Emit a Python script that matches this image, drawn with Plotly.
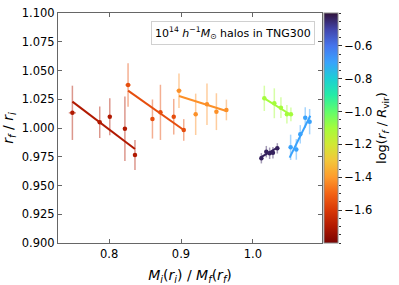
import plotly.graph_objects as go
from plotly.colors import sample_colorscale, sequential

# ---------------- data ----------------
group_logr = [-1.70, -1.55, -1.42, -1.10, -0.43, -0.70]

g1_x = [0.749, 0.787, 0.801, 0.822, 0.836]
g1_y = [1.0132, 1.0050, 1.0098, 0.9994, 0.9765]
g1_yerr = [0.0236, 0.0137, 0.0160, 0.0280, 0.0130]
g1_xerr = [0.005, 0.0, 0.0, 0.0, 0.0]

g2_x = [0.8264, 0.8603, 0.8714, 0.8899, 0.9038]
g2_y = [1.0374, 1.0078, 1.0136, 1.0098, 0.9983]
g2_yerr = [0.0190, 0.0170, 0.0240, 0.0155, 0.0094]
g2_xerr = [0.004, 0.0, 0.0, 0.0, 0.0]

g3_x = [0.8972, 0.9204, 0.9361, 0.9492, 0.9631]
g3_y = [1.0325, 1.0119, 1.0206, 1.0142, 1.0157]
g3_yerr = [0.0150, 0.0180, 0.0180, 0.0160, 0.0090]
g3_xerr = [0.004, 0.0, 0.0, 0.0, 0.0]

g4_x = [1.0158, 1.0297, 1.0389, 1.0472, 1.0528]
g4_y = [1.0258, 1.0215, 1.0177, 1.0119, 1.0119]
g4_yerr = [0.0110, 0.0130, 0.0090, 0.0080, 0.0060]
g4_xerr = [0.002, 0.0, 0.0, 0.0, 0.0]

g5_x = [1.0117, 1.0186, 1.0232, 1.0278, 1.0339]
g5_y = [0.9737, 0.9794, 0.9780, 0.9785, 0.9823]
g5_yerr = [0.0045, 0.0050, 0.0050, 0.0050, 0.0045]
g5_xerr = [0.001, 0.0, 0.0, 0.0, 0.0]

g6_x = [1.0524, 1.0603, 1.0658, 1.0727, 1.0788]
g6_y = [0.9832, 0.9814, 0.9945, 1.0090, 1.0055]
g6_yerr = [0.0110, 0.0090, 0.0080, 0.0090, 0.0110]
g6_xerr = [0.001, 0.0, 0.0, 0.0, 0.0]

# fitted line end points per group
fit_x0 = [0.749, 0.8264, 0.8972, 1.0158, 1.0107, 1.0510]
fit_x1 = [0.836, 0.9038, 0.9631, 1.0530, 1.0347, 1.0797]
fit_y0 = [1.0229, 1.0325, 1.0278, 1.0258, 0.9745, 0.9742]
fit_y1 = [0.9817, 0.9983, 1.0148, 1.0113, 0.9832, 1.0107]

x_ticks = [0.8, 0.9, 1.0]
y_ticks = [0.900, 0.925, 0.950, 0.975, 1.000, 1.025, 1.050, 1.075, 1.100]
cb_ticks = [-1.6, -1.4, -1.2, -1.0, -0.8, -0.6]

CMIN, CMAX = -1.8, -0.4

groups = [
    (g1_x, g1_y, g1_xerr, g1_yerr),
    (g2_x, g2_y, g2_xerr, g2_yerr),
    (g3_x, g3_y, g3_xerr, g3_yerr),
    (g4_x, g4_y, g4_xerr, g4_yerr),
    (g5_x, g5_y, g5_xerr, g5_yerr),
    (g6_x, g6_y, g6_xerr, g6_yerr),
]


def to_rgba(c, a):
    if c.startswith("rgb"):
        vals = c[c.index("(") + 1:c.index(")")].split(",")
        r, g, b = [float(v) for v in vals[:3]]
    else:
        c = c.lstrip("#")
        r, g, b = int(c[0:2], 16), int(c[2:4], 16), int(c[4:6], 16)
    return f"rgba({int(r)},{int(g)},{int(b)},{a})"


fig = go.Figure()

for i, (gx, gy, gxe, gye) in enumerate(groups):
    t = (group_logr[i] - CMIN) / (CMAX - CMIN)
    col = sample_colorscale(sequential.Turbo_r, [t])[0]
    ecol = to_rgba(col, 0.45)
    fig.add_trace(go.Scatter(
        x=gx, y=gy, mode="markers",
        marker=dict(size=4.5, color=col),
        error_y=dict(type="data", array=gye, visible=True, color=ecol,
                     thickness=1.5, width=0),
        error_x=dict(type="data", array=gxe, visible=True, color=ecol,
                     thickness=1.5, width=0),
        showlegend=False, hoverinfo="skip",
    ))
    fig.add_trace(go.Scatter(
        x=[fit_x0[i], fit_x1[i]], y=[fit_y0[i], fit_y1[i]], mode="lines",
        line=dict(color=col, width=2), showlegend=False, hoverinfo="skip",
    ))

# layout geometry
W, H = 399, 285
ML, MR, MT, MB = 58, 18, 13, 42
PW = W - ML - MR
plot_right_px = 322
dom_right = (plot_right_px - ML) / PW
cb_left = (324 - ML) / PW
cb_thick = 14
cb_right = (324 + cb_thick - ML) / PW

# colorbar trace
fig.add_trace(go.Scatter(
    x=[None], y=[None], mode="markers",
    marker=dict(color=[-1.0], cmin=CMIN, cmax=CMAX, colorscale="Turbo_r",
                showscale=True,
                colorbar=dict(
                    x=cb_left, xanchor="left", xpad=0, ypad=0,
                    y=0.5, yanchor="middle", len=1, lenmode="fraction",
                    thickness=cb_thick, outlinecolor="#888", outlinewidth=1,
                    tickvals=cb_ticks, ticktext=[f"\u2212{abs(v):.1f}" for v in cb_ticks],
                    ticks="outside", ticklen=4, tickwidth=1, tickcolor="#333",
                    tickfont=dict(family="DejaVu Sans", size=11.5, color="black"),
                    title=dict(text="log(<i>r</i><sub><i>f</i></sub> / <i>R</i><sub>vir</sub>)",
                               side="right",
                               font=dict(family="DejaVu Sans", size=13, color="black")),
                )),
    showlegend=False, hoverinfo="skip",
))

# helper trace for colorbar minor ticks
fig.add_trace(go.Scatter(x=[None], y=[None], yaxis="y2", showlegend=False,
                         hoverinfo="skip"))

fig.add_annotation(
    xref="x domain", yref="y domain", x=(315 - ML) / (plot_right_px - ML),
    y=1 - (21 - MT) / 230, xanchor="right", yanchor="top",
    text="10<sup>14</sup> <i>h</i><sup>\u22121</sup><i>M</i><sub>\u2299</sub> halos in TNG300",
    showarrow=False, bgcolor="white", bordercolor="#d0d0d0", borderwidth=1,
    borderpad=3, font=dict(family="DejaVu Sans", size=11, color="black"),
)

axis_common = dict(
    showline=True, linecolor="#666", linewidth=1, mirror="ticks",
    ticks="inside", ticklen=4, tickwidth=1, tickcolor="#666",
    showgrid=False, zeroline=False, automargin=False,
    tickfont=dict(family="DejaVu Sans", size=11.5, color="black"),
)

fig.update_layout(
    width=W, height=H,
    margin=dict(l=ML, r=MR, t=MT, b=MB, pad=0, autoexpand=False),
    plot_bgcolor="white", paper_bgcolor="white",
    font=dict(family="DejaVu Sans", color="black"),
    xaxis=dict(
        domain=[0, dom_right], range=[0.729, 1.096],
        tickvals=x_ticks, ticktext=[f"{v:.1f}" for v in x_ticks],
        title=dict(text="<i>M</i><sub><i>i</i></sub>(<i>r</i><sub><i>i</i></sub>) / "
                        "<i>M</i><sub><i>f</i></sub>(<i>r</i><sub><i>f</i></sub>)",
                   font=dict(family="DejaVu Sans", size=14)),
        **axis_common,
    ),
    yaxis=dict(
        range=[0.9, 1.1],
        tickvals=y_ticks, ticktext=[f"{v:.3f}" for v in y_ticks],
        title=dict(text="<i>r</i><sub><i>f</i></sub> / <i>r</i><sub><i>i</i></sub>",
                   font=dict(family="DejaVu Sans", size=14)),
        **axis_common,
    ),
    yaxis2=dict(
        overlaying="y", anchor="free", position=cb_right, side="right",
        range=[CMIN, CMAX], dtick=0.05, tick0=-1.8, ticks="outside",
        ticklen=2, tickwidth=1, tickcolor="#333", showticklabels=False,
        showline=False, showgrid=False, zeroline=False, automargin=False,
    ),
)

fig.write_html(
    "out.html",
    config={"displayModeBar": False},
    post_script="document.body.style.margin='0';document.body.style.padding='0';"
                "document.body.style.overflow='hidden';",
)
